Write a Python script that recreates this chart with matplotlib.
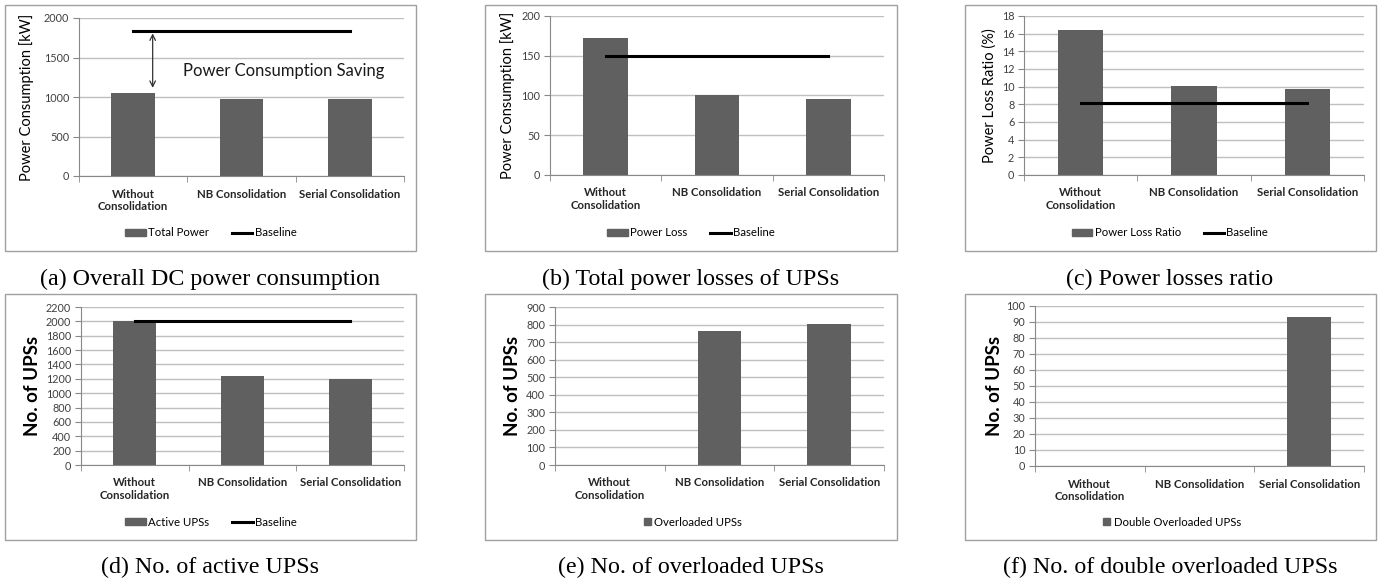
import numpy as np
import matplotlib
matplotlib.use('Agg')
import matplotlib.pyplot as plt
from matplotlib.patches import Rectangle
from matplotlib.lines import Line2D

# Data ########################################################################
categories = ['Without\nConsolidation', 'NB Consolidation', 'Serial Consolidation']

total_power = [1050, 975, 975]
baseline_power = [1840, 1840, 1840]

power_loss = [172, 100, 95]
baseline_loss = [150, 150, 150]

loss_ratio = [16.4, 10.1, 9.7]
baseline_ratio = [8.1, 8.1, 8.1]

active_ups = [2000, 1235, 1195]
baseline_ups = [2000, 2000, 2000]

overloaded_ups = [0, 765, 803]
double_overloaded_ups = [0, 0, 93]

captions = ['(a) Overall DC power consumption', '(b) Total power losses of UPSs',
            '(c) Power losses ratio', '(d) No. of active UPSs',
            '(e) No. of overloaded UPSs', '(f) No. of double overloaded UPSs']
###############################################################################

W, H = 1385, 584
bar_color = '#606060'
grid_color = '#bfbfbf'
font = 'Lato'

fig = plt.figure(figsize=(W / 100, H / 100), dpi=100)


def px_axes(left, right, top, bottom):
    return fig.add_axes([left / W, 1 - bottom / H, (right - left) / W, (bottom - top) / H])


def draw_panel(ax, values, yticks, ylabel, label_dx, bold_label=False, baseline=None):
    x = np.arange(len(categories))
    ax.bar(x, values, width=0.4, color=bar_color, zorder=2)
    if baseline is not None:
        ax.plot(x, baseline, color='black', lw=2.2, zorder=3)
    ax.set_xlim(-0.5, len(categories) - 0.5)
    ax.set_ylim(yticks[0], yticks[-1])
    ax.set_yticks(yticks)
    ax.set_xticks(x)
    ax.set_xticklabels(categories, fontweight='bold', fontsize=8.2, family=font, color='#262626')
    ax.set_xticks(np.arange(-0.5, len(categories)), minor=True)
    ax.tick_params(axis='x', which='major', length=0, pad=9)
    ax.tick_params(axis='x', which='minor', length=4, color='#888888', direction='out')
    ax.tick_params(axis='y', length=4, color='#888888', labelsize=7.8, labelcolor='#404040', pad=3)
    for lab in ax.get_yticklabels():
        lab.set_family(font)
    ax.grid(axis='y', color=grid_color, lw=1, zorder=0)
    for s in ['top', 'right']:
        ax.spines[s].set_visible(False)
    for s in ['left', 'bottom']:
        ax.spines[s].set_color('#888888')
    if bold_label:
        ax.set_ylabel(ylabel, fontsize=13.5, fontweight='bold', family=font, va='center')
    else:
        ax.set_ylabel(ylabel, fontsize=10.5, family=font, va='center')
    bb = ax.get_position()
    ax.yaxis.set_label_coords(-label_dx / (bb.width * W), 0.5)


def draw_frame(left, right, top, bottom):
    fig.patches.append(Rectangle((left / W, 1 - bottom / H), (right - left) / W, (bottom - top) / H,
                                 transform=fig.transFigure, fill=False, ec='#a0a0a0', lw=1))


def draw_legend(cx, cy, labels, with_line=True, square=False):
    handles = [Rectangle((0, 0), 1, 1, color=bar_color)]
    if with_line:
        handles.append(Line2D([0], [0], color='black', lw=2.2))
    if square:
        fig.legend(handles, labels, loc='center', bbox_to_anchor=(cx / W, 1 - cy / H), ncol=2,
                   frameon=False, prop={'family': font, 'size': 8.2}, handlelength=0.6,
                   handleheight=0.6, handletextpad=0.3)
    else:
        fig.legend(handles, labels, loc='center', bbox_to_anchor=(cx / W, 1 - cy / H), ncol=2,
                   frameon=False, prop={'family': font, 'size': 8.2}, handlelength=1.8,
                   handleheight=0.5, handletextpad=0.2, columnspacing=2.0)


frames_x = [(5, 416), (485, 897), (965, 1376)]
rows_y = [(5, 251), (294, 540)]
for (t, b) in rows_y:
    for (l, r) in frames_x:
        draw_frame(l, r, t, b)

# (a)
ax_a = px_axes(79, 404, 18, 176)
draw_panel(ax_a, total_power, np.arange(0, 2001, 500), 'Power Consumption [kW]', 52,
           baseline=baseline_power)
ax_a.annotate('', xy=(0.18, baseline_power[0]), xytext=(0.18, 1080),
              arrowprops=dict(arrowstyle='<->', color='#333333', lw=0.9))
ax_a.text(1.39, 1330, 'Power Consumption Saving', fontsize=12, family=font, ha='center', va='center',
          color='#1a1a1a')
draw_legend(211, 233, ['Total Power', 'Baseline'])

# (b)
ax_b = px_axes(550, 884, 16, 175)
draw_panel(ax_b, power_loss, np.arange(0, 201, 50), 'Power Consumption [kW]', 42,
           baseline=baseline_loss)
draw_legend(691, 233, ['Power Loss', 'Baseline'])

# (c)
ax_c = px_axes(1024, 1364, 16, 175)
draw_panel(ax_c, loss_ratio, np.arange(0, 19, 2), 'Power Loss Ratio (%)', 34,
           baseline=baseline_ratio)
draw_legend(1170, 233, ['Power Loss Ratio', 'Baseline'])

# (d)
ax_d = px_axes(81, 404, 307, 465)
draw_panel(ax_d, active_ups, np.arange(0, 2201, 200), 'No. of UPSs', 48, bold_label=True,
           baseline=baseline_ups)
draw_legend(211, 522, ['Active UPSs', 'Baseline'])

# (e)
ax_e = px_axes(555, 884, 307, 465)
draw_panel(ax_e, overloaded_ups, np.arange(0, 901, 100), 'No. of UPSs', 42, bold_label=True)
draw_legend(693, 522, ['Overloaded UPSs'], with_line=False, square=True)

# (f)
ax_f = px_axes(1035, 1364, 306, 466)
draw_panel(ax_f, double_overloaded_ups, np.arange(0, 101, 10), 'No. of UPSs', 40, bold_label=True)
draw_legend(1172, 522, ['Double Overloaded UPSs'], with_line=False, square=True)

# captions
cap_x = [210, 691, 1170]
cap_y = [279, 567]
for i, cap in enumerate(captions):
    fig.text(cap_x[i % 3] / W, 1 - cap_y[i // 3] / H, cap, ha='center', va='center',
             family='Liberation Serif', fontsize=17.3)

fig.savefig('out.png', dpi=100)
